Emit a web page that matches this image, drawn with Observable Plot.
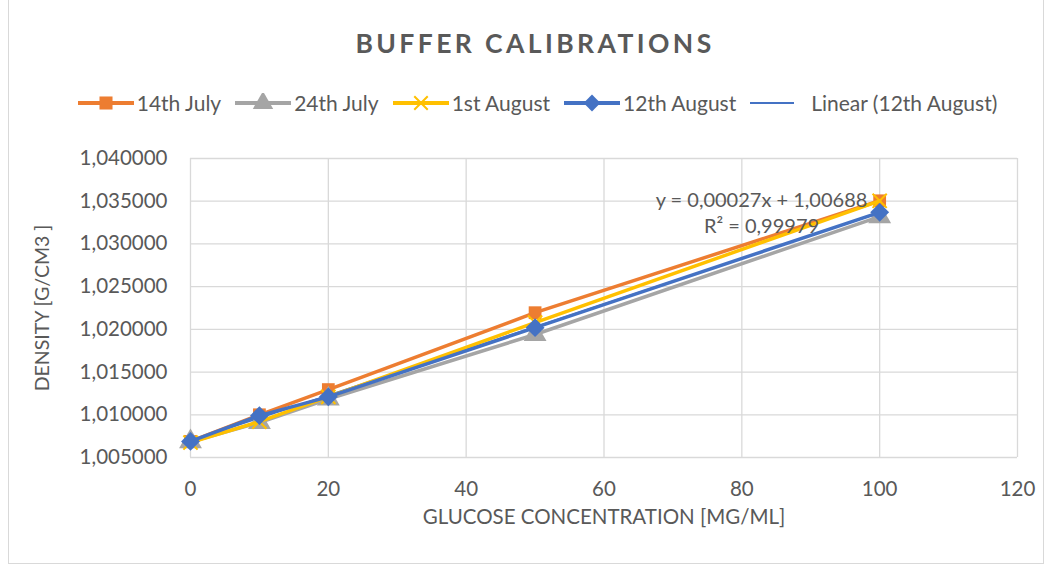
<!DOCTYPE html>
<html><head><meta charset="utf-8">
<script src="https://cdn.jsdelivr.net/npm/d3@7"></script>
<script src="https://cdn.jsdelivr.net/npm/@observablehq/plot@0.6"></script>
<style>
html,body{margin:0;padding:0;background:#fff;}
#wrap{position:relative;width:1050px;height:567px;overflow:hidden;font-family:Lato,"Open Sans",sans-serif;color:#595959;}
#border{position:absolute;left:8px;top:-2px;width:1036px;height:566px;border:1px solid #d9d9d9;box-sizing:border-box;}
#title{position:absolute;left:0;top:27px;width:1070px;text-align:center;font-size:26.5px;font-weight:bold;letter-spacing:3.4px;}
#legend{position:absolute;left:0;top:90px;width:1074px;display:flex;justify-content:center;gap:13px;font-size:21px;align-items:center;}
.item{display:flex;align-items:center;gap:2px;}
#chart{position:absolute;left:0;top:135px;}
</style></head>
<body><div id="wrap"><div id="border"></div><div id="title"></div><div id="legend"></div><div id="chart"></div></div>
<script>
const concentrations = [0, 10, 20, 50, 100];
const seriesNames = ["14th July", "24th July", "1st August", "12th August"];
const july14 = [1.00688, 1.01000, 1.01295, 1.02195, 1.03505];
const july24 = [1.00685, 1.00910, 1.01185, 1.01940, 1.03320];
const aug1 = [1.00675, 1.00920, 1.01210, 1.02080, 1.03505];
const aug12 = [1.00688, 1.00990, 1.01210, 1.02020, 1.03370];
const trendName = "Linear (12th August)";
const trendLabel = ["y = 0,00027x + 1,00688", "R² = 0,99979"];
const xTicks = [0, 20, 40, 60, 80, 100, 120];
const yTicks = [1.005, 1.010, 1.015, 1.020, 1.025, 1.030, 1.035, 1.040];
const titleText = "BUFFER CALIBRATIONS";
const xLabel = "GLUCOSE CONCENTRATION [MG/ML]";
const yLabel = "DENSITY [G/CM3 ]";

const colors = ["#ED7D31", "#A5A5A5", "#FFC000", "#4472C4"];
const symbols = ["square", "triangle", "times", "diamond2"];
const allValues = [july14, july24, aug1, aug12];

const rows = [];
allValues.forEach((vals, s) => vals.forEach((v, i) => rows.push({series: seriesNames[s], x: concentrations[i], y: v})));
const aug12Rows = rows.filter(d => d.series === "12th August");

const fmtY = v => d3.format(".6f")(v).replace(".", ",");

document.getElementById("title").textContent = titleText;

// Legend
const legend = document.getElementById("legend");
function swatch(color, symbol, line) {
  const ns = "http://www.w3.org/2000/svg";
  const svg = document.createElementNS(ns, "svg");
  const w = line ? 46 : 58;
  svg.setAttribute("width", w); svg.setAttribute("height", 20);
  const l = document.createElementNS(ns, "line");
  l.setAttribute("x1", 1); l.setAttribute("x2", w - 1); l.setAttribute("y1", 10); l.setAttribute("y2", 10);
  l.setAttribute("stroke", color); l.setAttribute("stroke-width", line ? 2 : 4);
  svg.appendChild(l);
  if (symbol) {
    const p = document.createElementNS(ns, "path");
    const map = {square: d3.symbolSquare, triangle: d3.symbolTriangle, times: d3.symbolTimes, diamond2: d3.symbolDiamond2};
    const size = symbol === "square" ? 170 : symbol === "times" ? 120 : 180;
    p.setAttribute("d", d3.symbol(map[symbol], size)());
    p.setAttribute("transform", `translate(${w/2},10)`);
    if (symbol === "times") { p.setAttribute("fill", "none"); p.setAttribute("stroke", color); p.setAttribute("stroke-width", 2); }
    else p.setAttribute("fill", color);
    svg.appendChild(p);
  }
  return svg;
}
seriesNames.forEach((n, i) => {
  const it = document.createElement("div"); it.className = "item";
  it.appendChild(swatch(colors[i], symbols[i], false));
  const t = document.createElement("span"); t.textContent = n; it.appendChild(t);
  legend.appendChild(it);
});
{
  const it = document.createElement("div"); it.className = "item";
  it.appendChild(swatch(colors[3], null, true));
  const t = document.createElement("span"); t.textContent = trendName; t.style.marginLeft = "14px"; it.appendChild(t);
  legend.appendChild(it);
}

const lineMarks = [];
seriesNames.forEach((n, i) => {
  const data = rows.filter(d => d.series === n);
  lineMarks.push(Plot.line(data, {x: "x", y: "y", stroke: colors[i], strokeWidth: 3.5}));
  if (symbols[i] === "times")
    lineMarks.push(Plot.dot(data, {x: "x", y: "y", symbol: "times", stroke: colors[i], strokeWidth: 2, r: 6.5}));
  else
    lineMarks.push(Plot.dot(data, {x: "x", y: "y", symbol: symbols[i], fill: colors[i], stroke: "none", r: symbols[i] === "square" ? 7.2 : 8.5}));
});

const chart = Plot.plot({
  width: 1050,
  height: 430,
  marginTop: 23,
  marginBottom: 108,
  marginLeft: 190,
  marginRight: 33,
  style: {fontFamily: "Lato, 'Open Sans', sans-serif", fontSize: "20.5px", color: "#595959", background: "transparent"},
  x: {domain: [0, 120], ticks: xTicks, tickSize: 0, tickPadding: 24, label: null},
  y: {domain: [1.005, 1.040], ticks: yTicks, tickSize: 0, tickPadding: 23, tickFormat: fmtY, label: null},
  marks: [
    Plot.gridX(xTicks, {stroke: "#d9d9d9", strokeOpacity: 1, strokeWidth: 1.3}),
    Plot.gridY(yTicks, {stroke: "#d9d9d9", strokeOpacity: 1, strokeWidth: 1.3}),
    Plot.axisX({ticks: xTicks, tickSize: 0, tickPadding: 24, fontSize: 20.5, label: null}),
    Plot.axisY({ticks: yTicks, tickSize: 0, tickPadding: 23, tickFormat: fmtY, fontSize: 20.5, label: null}),
    Plot.text([xLabel], {frameAnchor: "bottom", dy: 66, text: d => d, fontSize: 20.5, fill: "#595959"}),
    Plot.text([yLabel], {frameAnchor: "left", dx: -148, rotate: -90, textAnchor: "middle", text: d => d, fontSize: 19.5, fill: "#595959"}),
    Plot.linearRegressionY(aug12Rows, {x: "x", y: "y", stroke: colors[3], strokeWidth: 1.5, ci: 0}),
    ...lineMarks,
    Plot.text([trendLabel.join("\n")], {frameAnchor: "top-right", dx: -256, dy: 30, text: d => d, fontSize: 20, fill: "#595959", textAnchor: "middle", lineHeight: 1.3})
  ]
});
document.getElementById("chart").appendChild(chart);
</script></body></html>
